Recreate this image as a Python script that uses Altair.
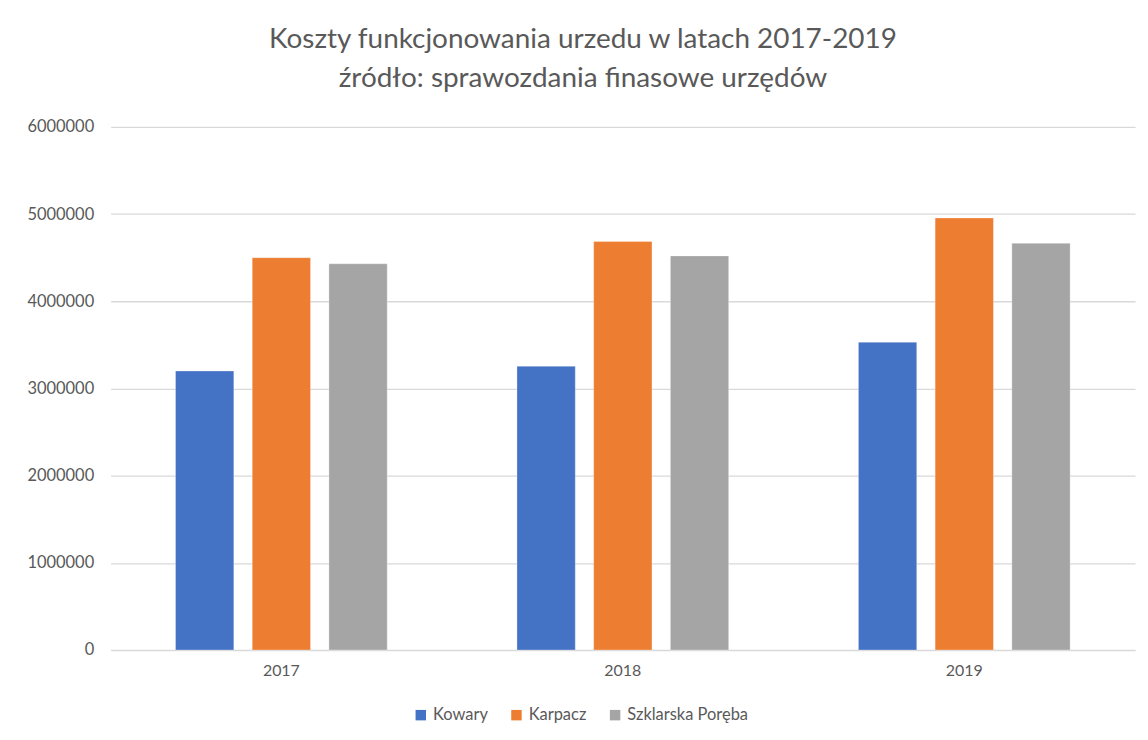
import altair as alt
import pandas as pd

years = ["2017", "2018", "2019"]
cities = ["Kowary", "Karpacz", "Szklarska Poręba"]
kowary = [3200000, 3255000, 3530000]
karpacz = [4500000, 4685000, 4955000]
szklarska = [4430000, 4520000, 4665000]
colors = ["#4472C4", "#ED7D31", "#A5A5A5"]
y_ticks = [0, 1000000, 2000000, 3000000, 4000000, 5000000, 6000000]

rows = []
for series, name in zip([kowary, karpacz, szklarska], cities):
    for yr, v in zip(years, series):
        rows.append({"rok": yr, "miasto": name, "koszt": v})
df = pd.DataFrame(rows)

font = "Lato"
text_col = "#595959"

chart = alt.Chart(df).mark_bar(stroke="white", strokeWidth=0.5, strokeOpacity=0.6).encode(
    x=alt.X("rok:N", sort=years, title=None,
            scale=alt.Scale(paddingInner=0.38, paddingOuter=0.19),
            axis=alt.Axis(labelAngle=0, ticks=False, domain=True, domainColor="#D9D9D9",
                          grid=False, labelPadding=13, labelFontSize=16,
                          labelColor=text_col, labelFont=font)),
    xOffset=alt.XOffset("miasto:N", sort=cities,
                        scale=alt.Scale(paddingInner=0.24, paddingOuter=0)),
    y=alt.Y("koszt:Q", title=None,
            scale=alt.Scale(domain=[0, 6000000], nice=False),
            axis=alt.Axis(values=y_ticks, format="d", ticks=False, domain=False,
                          gridColor="#D9D9D9", gridWidth=1.3, labelPadding=17,
                          labelFontSize=16.5, labelColor=text_col, labelFont=font)),
    color=alt.Color("miasto:N", sort=cities, title=None,
                    scale=alt.Scale(domain=cities, range=colors),
                    legend=alt.Legend(orient="none", direction="horizontal",
                                      legendX=303, legendY=582,
                                      symbolType="square", symbolSize=110,
                                      symbolStrokeWidth=0,
                                      labelFontSize=16.5, labelColor=text_col, labelFont=font,
                                      columnPadding=20, labelOffset=4)),
).properties(
    width=1028,
    height=525,
    background="white",
    title=alt.TitleParams(
        text=["Koszty funkcjonowania urzedu w latach 2017-2019",
              "źródło: sprawozdania finasowe urzędów"],
        font=font, fontSize=28, fontWeight="normal", color=text_col,
        anchor="middle", dx=-40, offset=26, lineHeight=39,
    ),
    autosize=alt.AutoSizeParams(type="none"),
    padding={"left": 103, "top": 118, "right": 5, "bottom": 80},
).configure_view(stroke=None)

chart.save("out.html", embed_options={"renderer": "svg", "actions": False})
